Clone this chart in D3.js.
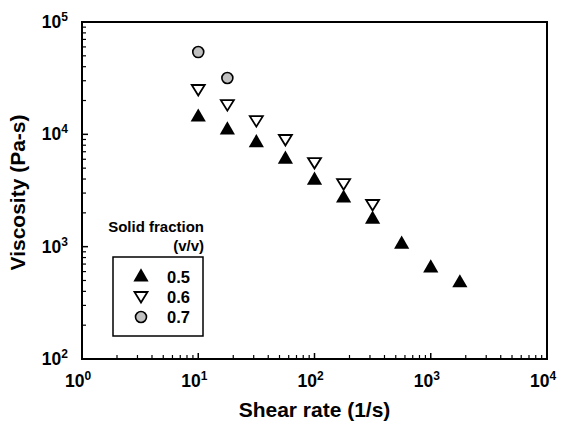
<!DOCTYPE html>
<html>
<head>
<meta charset="utf-8">
<script src="https://d3js.org/d3.v7.min.js"></script>
<style>
  body { margin: 0; background: #fff; }
  text { font-family: "Liberation Sans", Arial, sans-serif; font-weight: bold; }
</style>
</head>
<body>
<script>
// shear rate (1/s) and viscosity (Pa-s) per solid fraction
const shear = [10, 17.8, 31.6, 56.2, 100, 178, 316, 562, 1000, 1780]
const visc05 = [14200, 10900, 8400, 6000, 3900, 2700, 1750, 1050, 645, 475]
const visc06 = [24800, 18200, 13100, 8900, 5550, 3600, 2350]
const visc07 = [54000, 31700]
const fractions = ['0.5', '0.6', '0.7']
const xTicks = [1, 10, 100, 1000, 10000]
const yTicks = [100, 1000, 10000, 100000]

const width = 563, height = 421
const margin = { top: 22, right: 16, bottom: 62, left: 82 }

const svg = d3.select('body').append('svg')
    .attr('width', width).attr('height', height)

const x = d3.scaleLog().domain([1, 10000]).range([margin.left, width - margin.right])
const y = d3.scaleLog().domain([100, 100000]).range([height - margin.bottom, margin.top])

const minor = dom => {
    const out = []
    for (let p = dom[0]; p < dom[1]; p *= 10)
        for (let k = 2; k <= 9; k++) out.push(p * k)
    return out
}

/* ticks, drawn inward */
const g = svg.append('g')
g.selectAll('.xmaj').data(xTicks).join('line')
    .attr('x1', d => x(d)).attr('x2', d => x(d))
    .attr('y1', y(100)).attr('y2', y(100) - 6)
    .attr('stroke', '#000').attr('stroke-width', 1.5)
g.selectAll('.xmin').data(minor([1, 10000])).join('line')
    .attr('x1', d => x(d)).attr('x2', d => x(d))
    .attr('y1', y(100)).attr('y2', y(100) - 4)
    .attr('stroke', '#000').attr('stroke-width', 1.2)
g.selectAll('.ymaj').data(yTicks).join('line')
    .attr('y1', d => y(d)).attr('y2', d => y(d))
    .attr('x1', x(1)).attr('x2', x(1) + 6)
    .attr('stroke', '#000').attr('stroke-width', 1.5)
g.selectAll('.ymin').data(minor([100, 100000])).join('line')
    .attr('y1', d => y(d)).attr('y2', d => y(d))
    .attr('x1', x(1)).attr('x2', x(1) + 4)
    .attr('stroke', '#000').attr('stroke-width', 1.2)

/* frame */
svg.append('rect')
    .attr('x', x(1)).attr('y', y(100000))
    .attr('width', x(10000) - x(1)).attr('height', y(100) - y(100000))
    .attr('fill', 'none').attr('stroke', '#000').attr('stroke-width', 2)

/* tick labels with superscripts */
const exp = d => Math.round(Math.log10(d))
svg.selectAll('.xl').data(xTicks).join('text')
    .attr('x', d => x(d) - 4).attr('y', y(100) + 28)
    .attr('text-anchor', 'middle').attr('font-size', 17.5)
    .call(t => t.append('tspan').text('10'))
    .call(t => t.append('tspan').attr('dy', -7).attr('font-size', 12).text(d => exp(d)))
svg.selectAll('.yl').data(yTicks).join('text')
    .attr('x', x(1) - 14).attr('y', d => y(d) + 6)
    .attr('text-anchor', 'end').attr('font-size', 17.5)
    .call(t => t.append('tspan').text('10'))
    .call(t => t.append('tspan').attr('dy', -7).attr('font-size', 12).text(d => exp(d)))

/* axis titles */
svg.append('text')
    .attr('x', (x(1) + x(10000)) / 2).attr('y', height - 4)
    .attr('text-anchor', 'middle').attr('font-size', 21)
    .text('Shear rate (1/s)')
svg.append('text')
    .attr('transform', `translate(25,${(y(100) + y(100000)) / 2 + 2}) rotate(-90)`)
    .attr('text-anchor', 'middle').attr('font-size', 21)
    .text('Viscosity (Pa-s)')

/* markers */
const up = d3.symbol().type(d3.symbolTriangle).size(100)
const down = 'M-6.5,-5L6.5,-5L0,5.5Z'

svg.selectAll('.s05').data(visc05).join('path')
    .attr('d', up())
    .attr('transform', (d, i) => `translate(${x(shear[i])},${y(d)})`)
    .attr('fill', '#000')
svg.selectAll('.s06').data(visc06).join('path')
    .attr('d', down)
    .attr('transform', (d, i) => `translate(${x(shear[i])},${y(d)})`)
    .attr('fill', '#fff').attr('stroke', '#000').attr('stroke-width', 1.8)
svg.selectAll('.s07').data(visc07).join('circle')
    .attr('cx', (d, i) => x(shear[i])).attr('cy', d => y(d)).attr('r', 5.5)
    .attr('fill', '#c0c0c0').attr('stroke', '#000').attr('stroke-width', 1.6)

/* legend */
const lg = svg.append('g')
lg.append('text').attr('x', 204).attr('y', 232).attr('text-anchor', 'end')
    .attr('font-size', 15).text('Solid fraction')
lg.append('text').attr('x', 204).attr('y', 251).attr('text-anchor', 'end')
    .attr('font-size', 15).text('(v/v)')
lg.append('rect').attr('x', 113).attr('y', 257).attr('width', 90).attr('height', 79)
    .attr('fill', '#fff').attr('stroke', '#000').attr('stroke-width', 1.5)
const rows = lg.selectAll('.row').data(fractions).join('g')
    .attr('transform', (d, i) => `translate(0,${277 + i * 20})`)
rows.append('text').attr('x', 167).attr('y', 6).attr('font-size', 16.5).text(d => d)
rows.filter((d, i) => i === 0).append('path')
    .attr('d', up()).attr('transform', 'translate(141,0)').attr('fill', '#000')
rows.filter((d, i) => i === 1).append('path')
    .attr('d', down).attr('transform', 'translate(141,0)')
    .attr('fill', '#fff').attr('stroke', '#000').attr('stroke-width', 1.8)
rows.filter((d, i) => i === 2).append('circle')
    .attr('cx', 141).attr('r', 5.5)
    .attr('fill', '#c0c0c0').attr('stroke', '#000').attr('stroke-width', 1.6)
</script>
</body>
</html>
